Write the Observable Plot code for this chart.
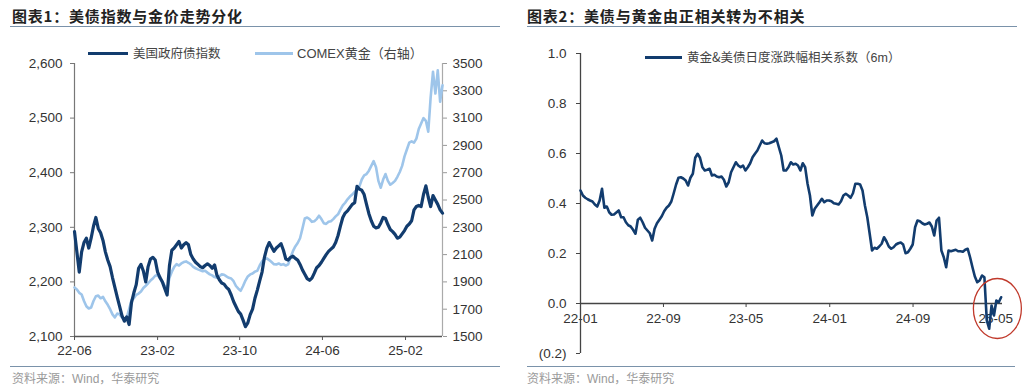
<!DOCTYPE html>
<html>
<head>
<meta charset="utf-8">
<script src="https://cdn.jsdelivr.net/npm/d3@7"></script>
<script src="https://cdn.jsdelivr.net/npm/@observablehq/plot@0.6"></script>
<style>
  body { margin:0; width:1024px; height:390px; position:relative; background:#fff; overflow:hidden; font-family:"Noto Sans CJK SC", "Liberation Sans", sans-serif; }
  .title { position:absolute; top:7px; font-weight:bold; font-size:15px; line-height:18px; color:#222; letter-spacing:0.8px; white-space:nowrap; }
  .rule { position:absolute; height:0; border-top:1.5px solid #7a92aa; }
  .src { position:absolute; top:370px; font-size:12px; line-height:15px; color:#9a9a9a; white-space:nowrap; }
  .leg { position:absolute; font-size:12.5px; line-height:15px; color:#444; white-space:nowrap; }
  .swatch { position:absolute; height:3px; }
  .chart { position:absolute; top:40px; }
</style>
</head>
<body>
<div class="title" style="left:12px">图表1：美债指数与金价走势分化</div>
<div class="rule" style="left:10px; width:490px; top:26px"></div>
<div class="title" style="left:527px">图表2：美债与黄金由正相关转为不相关</div>
<div class="rule" style="left:527px; width:490px; top:26px"></div>

<div id="c1" class="chart" style="left:0px"></div>
<div id="c2" class="chart" style="left:512px"></div>

<div class="swatch" style="left:88px; width:40px; top:52px; background:#123c6e"></div>
<div class="leg" style="left:133px; top:45px">美国政府债指数</div>
<div class="swatch" style="left:255px; width:38px; top:52px; background:#9ec5ea"></div>
<div class="leg" style="left:297px; top:45px; font-family:'Liberation Sans','Noto Sans CJK SC',sans-serif; font-size:13px">COMEX<span style="font-family:'Noto Sans CJK SC'">黄金（右轴）</span></div>

<div class="swatch" style="left:645px; width:37px; top:56px; background:#123c6e"></div>
<div class="leg" style="left:687px; top:49px">黄金&amp;美债日度涨跌幅相关系数（<span style="font-family:'Liberation Sans'">6m</span>）</div>

<div class="rule" style="left:10px; width:490px; top:366px"></div>
<div class="src" style="left:12px">资料来源：<span style="font-family:'Liberation Sans'">Wind</span>，华泰研究</div>
<div class="rule" style="left:527px; width:488px; top:366px"></div>
<div class="src" style="left:527px">资料来源：<span style="font-family:'Liberation Sans'">Wind</span>，华泰研究</div>

<script>
// ---------- Chart 1 data (weekly from 2022-06-01) ----------
const bondStart = "2022-06-01";
const bondEnd = "2025-05-21";
const bondValues = [
  2292,2255,2218,2255,2272,2280,2262,2280,2302,2318,
  2298,2290,2276,2255,2240,2228,2208,2190,2172,2155,
  2138,2128,2136,2122,2162,2180,2195,2225,2232,2220,
  2200,2228,2242,2245,2240,2218,2208,2200,2188,2176,
  2230,2258,2262,2268,2274,2262,2268,2272,2268,2250,
  2242,2236,2232,2228,2226,2230,2233,2230,2225,2231,
  2212,2204,2198,2196,2190,2186,2176,2164,2155,2146,
  2141,2130,2118,2125,2140,2150,2170,2185,2202,2218,
  2245,2262,2272,2264,2256,2262,2266,2270,2258,2242,
  2240,2245,2247,2243,2240,2232,2222,2214,2206,2203,
  2207,2216,2226,2230,2236,2243,2250,2256,2260,2264,
  2272,2285,2302,2318,2326,2330,2336,2342,2345,2375,
  2370,2368,2360,2342,2325,2312,2302,2299,2300,2308,
  2318,2316,2305,2296,2292,2287,2280,2282,2288,2294,
  2302,2306,2312,2332,2338,2340,2338,2360,2376,2355,
  2338,2358,2350,2342,2332,2326
];
const goldValues = [
  1859,1845,1820,1808,1760,1722,1705,1712,1760,1795,
  1800,1780,1790,1758,1732,1700,1662,1640,1668,1662,
  1640,1630,1640,1700,1765,1780,1805,1815,1830,1855,
  1872,1890,1910,1925,1945,1950,1925,1905,1870,1838,
  1930,1975,2010,2030,2020,2035,2045,2050,2040,2028,
  2010,2000,1992,1985,1978,1982,1968,1955,1948,1935,
  1930,1942,1955,1952,1940,1930,1925,1905,1870,1850,
  1835,1870,1910,1940,1955,1962,1975,1982,2020,2050,
  2068,2072,2060,2045,2030,2028,2035,2025,2030,2020,
  2028,2080,2125,2160,2185,2220,2290,2365,2372,2360,
  2340,2345,2360,2385,2360,2330,2325,2340,2345,2360,
  2380,2395,2430,2460,2480,2505,2525,2540,2560,2572,
  2600,2650,2680,2690,2715,2750,2785,2740,2640,2590,
  2650,2690,2640,2612,2625,2640,2670,2705,2750,2820,
  2870,2920,2930,2920,2950,3020,3060,3100,3080,3000,
  3250,3440,3280,3450,3220,3340
];
const leftTicks = [2100, 2200, 2300, 2400, 2500, 2600];
const goldTicks = [1500, 1700, 1900, 2100, 2300, 2500, 2700, 2900, 3100, 3300, 3500];
const xTicks1 = ["2022-06-01", "2023-02-01", "2023-10-01", "2024-06-01", "2025-02-01"];

// ---------- Chart 2 data (weekly from 2022-01-01) ----------
const corrStart = "2022-01-01";
const corrEnd = "2025-05-21";
const corrValues = [
  0.452,0.432,0.423,0.417,0.412,0.408,0.396,0.388,0.412,0.459,
  0.383,0.388,0.365,0.355,0.356,0.364,0.372,0.345,0.345,0.325,
  0.313,0.308,0.295,0.279,0.335,0.343,0.325,0.303,0.292,0.281,
  0.252,0.299,0.321,0.335,0.349,0.369,0.383,0.392,0.408,0.441,
  0.476,0.503,0.505,0.500,0.492,0.472,0.503,0.519,0.583,0.599,
  0.583,0.545,0.532,0.535,0.539,0.512,0.515,0.508,0.505,0.508,
  0.495,0.468,0.485,0.525,0.545,0.565,0.552,0.545,0.552,0.532,
  0.545,0.561,0.585,0.599,0.612,0.632,0.652,0.641,0.639,0.641,
  0.645,0.649,0.659,0.625,0.592,0.532,0.532,0.545,0.565,0.556,
  0.559,0.552,0.532,0.561,0.545,0.479,0.432,0.352,0.379,0.392,
  0.405,0.419,0.405,0.412,0.412,0.409,0.401,0.399,0.396,0.409,
  0.432,0.439,0.432,0.423,0.441,0.479,0.479,0.476,0.452,0.392,
  0.345,0.279,0.212,0.223,0.219,0.228,0.239,0.265,0.249,0.228,
  0.219,0.225,0.236,0.241,0.244,0.236,0.201,0.205,0.219,0.236,
  0.305,0.332,0.329,0.321,0.316,0.319,0.324,0.308,0.272,0.332,
  0.343,0.212,0.185,0.145,0.212,0.209,0.212,0.215,0.209,0.209,
  0.207,0.215,0.219,0.185,0.145,0.108,0.085,0.092,0.112,0.105,
  -0.068,-0.101,-0.008,-0.048,0.012,0.005,0.025
];
const corrTicks = [-0.2, 0, 0.2, 0.4, 0.6, 0.8, 1.0];
const xTicks2 = ["2022-01-01", "2022-09-01", "2023-05-01", "2024-01-01", "2024-09-01", "2025-05-01"];
const highlight = [{date: "2025-05-06", value: -0.02}];

// ---------- helpers ----------
const parse = d3.utcParse("%Y-%m-%d");
const fmtYM = d3.utcFormat("%y-%m");
const weekly = (start, values) => values.map((v, i) => ({date: d3.utcDay.offset(parse(start), 7 * i), value: v}));

// gold mapped onto the left scale: 1500..3500 -> 2100..2600
const toLeft = g => 2100 + (g - 1500) / 4;
const fromLeft = v => 1500 + (v - 2100) * 4;

const bond = weekly(bondStart, bondValues);
const gold = weekly(bondStart, goldValues).map(d => ({date: d.date, value: d.value, left: toLeft(d.value)}));
const corr = weekly(corrStart, corrValues);

const DARK = "#123c6e", LIGHT = "#9ec5ea";
const axisFont = {fontFamily: "'Liberation Sans', Arial, sans-serif", fontSize: "13.5px", color: "#333", background: "white", overflow: "visible"};

const c1 = Plot.plot({
  width: 512, height: 322,
  marginLeft: 74, marginRight: 70, marginTop: 23, marginBottom: 26,
  style: axisFont,
  x: {type: "utc", domain: [parse(bondStart), parse(bondEnd)], axis: null},
  y: {domain: [2100, 2600], axis: null},
  marks: [
    Plot.axisY({ticks: leftTicks, tickFormat: d3.format(","), tickSize: 4, tickPadding: 8, anchor: "left", stroke: "#777", label: null}),
    Plot.axisY({ticks: goldTicks.map(toLeft), tickFormat: d => String(Math.round(fromLeft(d))), tickSize: 4, tickPadding: 6, anchor: "right", stroke: "#999", label: null}),
    Plot.axisX({ticks: xTicks1.map(parse), tickFormat: fmtYM, tickSize: 4, tickPadding: 5, stroke: "#555", label: null}),
    Plot.ruleX([parse(bondStart)], {stroke: "#777", strokeWidth: 1.2}),
    Plot.ruleX([parse(bondEnd)], {stroke: "#aaa", strokeWidth: 1.2}),
    Plot.line(gold, {x: "date", y: "left", stroke: LIGHT, strokeWidth: 2.6}),
    Plot.line(bond, {x: "date", y: "value", stroke: DARK, strokeWidth: 3.2}),
    Plot.ruleY([2100], {stroke: "#555", strokeWidth: 1.5})
  ]
});
document.getElementById("c1").appendChild(c1);

const ellipse = {
  draw(ctx) {
    const rx = 24, ry = 30, k = 0.5523;
    ctx.moveTo(rx, 0);
    ctx.bezierCurveTo(rx, ry * k, rx * k, ry, 0, ry);
    ctx.bezierCurveTo(-rx * k, ry, -rx, ry * k, -rx, 0);
    ctx.bezierCurveTo(-rx, -ry * k, -rx * k, -ry, 0, -ry);
    ctx.bezierCurveTo(rx * k, -ry, rx, -ry * k, rx, 0);
    ctx.closePath();
  }
};

const negFmt = d => d < 0 ? `(${(-d).toFixed(1)})` : d.toFixed(1);

const c2 = Plot.plot({
  width: 512, height: 322,
  marginLeft: 68, marginRight: 22, marginTop: 13, marginBottom: 9,
  style: axisFont,
  x: {type: "utc", domain: [parse(corrStart), parse(corrEnd)], axis: null},
  y: {domain: [-0.2, 1.0], axis: null},
  marks: [
    Plot.axisY({ticks: corrTicks, tickFormat: negFmt, tickSize: 4, tickPadding: 10, anchor: "left", stroke: "#444", label: null}),
    Plot.text(xTicks2.map(parse), {x: d => d, y: 0, text: d => fmtYM(d), dy: 15, fill: "#333"}),
    Plot.ruleX(xTicks2.map(parse), {x: d => d, y1: 0, y2: -0.016, stroke: "#444"}),
    Plot.ruleX([parse(corrStart)], {stroke: "#444", strokeWidth: 1.3}),
    Plot.ruleY([0], {stroke: "#444", strokeWidth: 1.4}),
    Plot.line(corr, {x: "date", y: "value", stroke: DARK, strokeWidth: 2.6}),
    Plot.dot(highlight, {x: d => parse(d.date), y: "value", symbol: ellipse, fill: "none", stroke: "#c0392b", strokeWidth: 1.3})
  ]
});
document.getElementById("c2").appendChild(c2);
</script>
</body>
</html>
